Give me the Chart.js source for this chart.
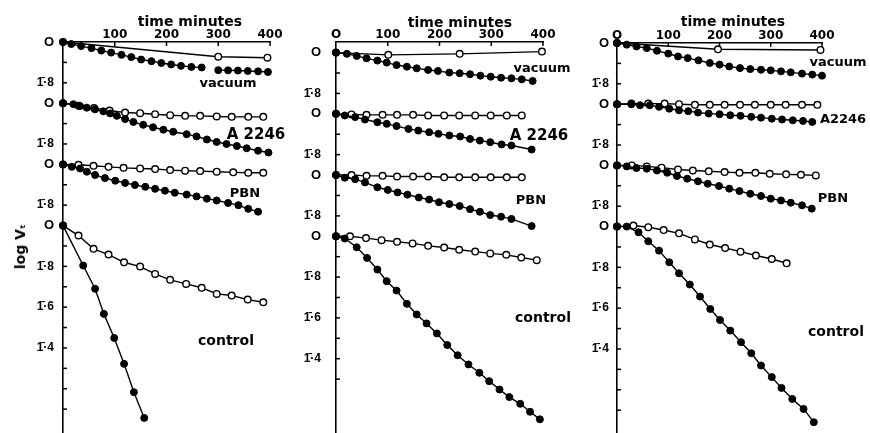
<!DOCTYPE html>
<html><head><meta charset="utf-8">
<script src="https://cdn.jsdelivr.net/npm/chart.js@4.4.1/dist/chart.umd.min.js"></script>
<style>
html,body{margin:0;padding:0;background:#fff;}
#wrap{position:relative;width:870px;height:433px;overflow:hidden;background:#fff;}
.pc{position:absolute;top:0;height:433px;width:290px;}
.lbl{position:absolute;font-family:"DejaVu Sans",sans-serif;font-weight:bold;color:#000;white-space:nowrap;transform:translate(-50%,-50%);line-height:1;}
</style></head>
<body><div id="wrap">
<div class="pc" style="left:0"><canvas id="c1"></canvas></div>
<div class="pc" style="left:290px"><canvas id="c2"></canvas></div>
<div class="pc" style="left:580px"><canvas id="c3"></canvas></div>

<div class="lbl" style="left:190px;top:21px;font-size:14px">time minutes</div>
<div class="lbl" style="left:460px;top:22px;font-size:14px">time minutes</div>
<div class="lbl" style="left:733px;top:21px;font-size:14px">time minutes</div>
<div class="lbl" style="left:20px;top:247px;font-size:14px;transform:translate(-50%,-50%) rotate(-90deg)">log V<span style="font-size:11px">ₜ</span></div>

<div class="lbl" style="left:228px;top:82px;font-size:13px">vacuum</div>
<div class="lbl" style="left:256px;top:134px;font-size:15px">A 2246</div>
<div class="lbl" style="left:245px;top:192px;font-size:13px">PBN</div>
<div class="lbl" style="left:226px;top:340px;font-size:14px">control</div>

<div class="lbl" style="left:542px;top:67px;font-size:13px">vacuum</div>
<div class="lbl" style="left:539px;top:135px;font-size:15px">A 2246</div>
<div class="lbl" style="left:531px;top:199px;font-size:13px">PBN</div>
<div class="lbl" style="left:543px;top:317px;font-size:14px">control</div>

<div class="lbl" style="left:838px;top:61px;font-size:13px">vacuum</div>
<div class="lbl" style="left:843px;top:118px;font-size:13px">A2246</div>
<div class="lbl" style="left:833px;top:197px;font-size:13px">PBN</div>
<div class="lbl" style="left:836px;top:331px;font-size:14px">control</div>
</div>
<script>
// ---- tick labels ----
const xTickValues = [0, 100, 200, 300, 400];
const xTickLabelsP1 = ['', '100', '200', '300', '400'];
const xTickLabelsP23 = ['O', '100', '200', '300', '400'];
const yTickValues = [0,-0.1,-0.2,-0.3,-0.4,-0.5,-0.6,-0.7,-0.8,-0.9,-1.0,-1.1,-1.2,-1.3,-1.4,-1.5,-1.6,-1.7,-1.8];
const yTickLabels = ['O','','1\u0304\u00B78','O','','1\u0304\u00B78','O','','1\u0304\u00B78','O','','1\u0304\u00B78','','1\u0304\u00B76','','1\u0304\u00B74','','',''];
// vertical offset of each curve family (log units): vacuum, A2246, PBN, control
const curveOffsets = [0, -0.3, -0.6, -0.9];

// ---- Panel 1 (time in minutes, log Vt) ----
const p1VacOpenT = [0, 300, 395];
const p1VacOpenV = [0, -0.072, -0.077];
const p1VacFillAT = [0,16,35,55,74,93,113,132,151,171,190,209,228,248,268];
const p1VacFillAV = [0,-0.010,-0.020,-0.030,-0.042,-0.052,-0.063,-0.074,-0.086,-0.094,-0.103,-0.110,-0.117,-0.122,-0.125];
const p1VacFillBT = [300,319,338,357,377,396];
const p1VacFillBV = [-0.138,-0.139,-0.140,-0.142,-0.144,-0.147];
const p1A2246OpenT = [0,30,60,90,120,149,178,207,236,265,297,326,358,387];
const p1A2246OpenV = [0,-0.012,-0.024,-0.036,-0.046,-0.049,-0.054,-0.059,-0.062,-0.062,-0.065,-0.067,-0.067,-0.067];
const p1A2246FillT = [0,20,33,46,62,78,91,104,120,136,155,174,194,213,239,258,278,297,316,336,355,377,397];
const p1A2246FillV = [0,-0.005,-0.014,-0.022,-0.030,-0.040,-0.050,-0.062,-0.078,-0.092,-0.106,-0.118,-0.130,-0.140,-0.152,-0.163,-0.178,-0.190,-0.200,-0.210,-0.221,-0.233,-0.242];
const p1PbnOpenT = [0,30,59,88,117,149,178,207,236,265,297,329,358,387];
const p1PbnOpenV = [0,-0.002,-0.007,-0.012,-0.017,-0.020,-0.023,-0.028,-0.031,-0.033,-0.036,-0.039,-0.041,-0.041];
const p1PbnFillT = [0,17,33,46,62,81,101,120,139,159,178,197,216,239,258,278,297,319,339,358,377];
const p1PbnFillV = [0,-0.012,-0.020,-0.036,-0.052,-0.067,-0.080,-0.091,-0.101,-0.110,-0.120,-0.129,-0.139,-0.148,-0.157,-0.168,-0.177,-0.189,-0.200,-0.218,-0.232];
const p1CtrlOpenT = [0,30,59,88,118,149,178,207,238,268,297,326,357,387];
const p1CtrlOpenV = [0,-0.049,-0.114,-0.142,-0.180,-0.201,-0.237,-0.266,-0.286,-0.305,-0.335,-0.343,-0.363,-0.376];
const p1CtrlFillT = [0,39,62,79,99,118,137,157];
const p1CtrlFillV = [0,-0.196,-0.310,-0.433,-0.551,-0.678,-0.817,-0.943];

// ---- Panel 2 ----
const p2VacOpenT = [0,101,239,398];
const p2VacOpenV = [0,-0.011,-0.006,0.005];
const p2VacFillT = [0,21,40,59,80,98,117,137,156,178,197,219,239,259,279,299,319,339,359,380];
const p2VacFillV = [0,-0.006,-0.016,-0.028,-0.039,-0.049,-0.061,-0.069,-0.077,-0.085,-0.090,-0.098,-0.101,-0.106,-0.113,-0.118,-0.123,-0.126,-0.131,-0.139];
const p2A2246OpenT = [0,30,59,90,118,149,178,209,238,269,299,330,359];
const p2A2246OpenV = [0,-0.003,-0.005,-0.005,-0.005,-0.005,-0.008,-0.008,-0.008,-0.008,-0.008,-0.008,-0.008];
const p2A2246FillT = [0,17,37,56,80,98,117,140,159,180,198,219,240,259,278,298,320,339,378];
const p2A2246FillV = [0,-0.008,-0.016,-0.028,-0.041,-0.049,-0.060,-0.074,-0.082,-0.090,-0.098,-0.106,-0.111,-0.123,-0.131,-0.139,-0.150,-0.155,-0.175];
const p2PbnOpenT = [0,30,59,90,118,149,178,209,238,269,299,330,359];
const p2PbnOpenV = [0,0,-0.004,-0.004,-0.007,-0.007,-0.007,-0.011,-0.011,-0.011,-0.011,-0.011,-0.011];
const p2PbnFillT = [0,17,37,56,80,100,119,138,160,180,199,219,239,259,278,298,319,339,378];
const p2PbnFillV = [0,-0.013,-0.020,-0.036,-0.060,-0.073,-0.085,-0.096,-0.110,-0.120,-0.133,-0.142,-0.152,-0.167,-0.180,-0.196,-0.204,-0.215,-0.250];
const p2CtrlOpenT = [0,27,58,88,118,148,178,209,238,269,298,329,358,388];
const p2CtrlOpenV = [0,0,-0.009,-0.019,-0.027,-0.035,-0.047,-0.055,-0.066,-0.075,-0.084,-0.091,-0.104,-0.117];
const p2CtrlFillT = [0,17,40,60,80,98,117,137,156,175,195,215,235,256,277,296,316,335,356,375,394];
const p2CtrlFillV = [0,-0.011,-0.054,-0.106,-0.163,-0.220,-0.266,-0.331,-0.383,-0.427,-0.476,-0.533,-0.583,-0.628,-0.669,-0.710,-0.751,-0.788,-0.821,-0.860,-0.897];

// ---- Panel 3 ----
const p3VacOpenT = [0,197,397];
const p3VacOpenV = [0,-0.031,-0.034];
const p3VacFillT = [0,19,38,58,78,100,119,138,159,181,200,219,240,260,281,300,320,339,361,381,400];
const p3VacFillV = [0,-0.008,-0.017,-0.025,-0.038,-0.052,-0.066,-0.074,-0.085,-0.098,-0.106,-0.115,-0.123,-0.128,-0.131,-0.134,-0.139,-0.144,-0.150,-0.155,-0.160];
const p3A2246OpenT = [0,28,61,93,121,152,181,210,240,269,300,329,361,391];
const p3A2246OpenV = [0,0.003,0.003,0.003,0,-0.003,-0.003,-0.003,-0.003,-0.003,-0.003,-0.003,-0.003,-0.003];
const p3A2246FillT = [0,28,45,64,82,102,121,139,158,179,200,221,241,262,281,302,322,343,363,381];
const p3A2246FillV = [0,0,-0.005,-0.005,-0.013,-0.022,-0.030,-0.034,-0.041,-0.046,-0.049,-0.054,-0.057,-0.062,-0.066,-0.071,-0.075,-0.079,-0.082,-0.087];
const p3PbnOpenT = [0,29,58,87,119,148,179,210,239,270,298,330,359,388];
const p3PbnOpenV = [0,0,-0.005,-0.011,-0.020,-0.025,-0.029,-0.033,-0.036,-0.036,-0.041,-0.044,-0.046,-0.049];
const p3PbnFillT = [0,19,38,58,78,98,117,137,158,177,199,219,239,260,281,300,320,339,361,380];
const p3PbnFillV = [0,-0.005,-0.013,-0.016,-0.025,-0.036,-0.052,-0.065,-0.078,-0.090,-0.101,-0.114,-0.126,-0.139,-0.150,-0.163,-0.172,-0.183,-0.196,-0.212];
const p3CtrlOpenT = [0,32,61,91,121,152,181,211,241,271,302,331];
const p3CtrlOpenV = [0,0.005,-0.003,-0.017,-0.033,-0.063,-0.088,-0.105,-0.123,-0.142,-0.159,-0.180];
const p3CtrlFillT = [0,19,42,61,82,102,121,142,162,182,201,221,242,262,281,302,321,342,364,384];
const p3CtrlFillV = [0,0,-0.028,-0.072,-0.118,-0.175,-0.229,-0.284,-0.343,-0.404,-0.458,-0.510,-0.567,-0.621,-0.681,-0.738,-0.791,-0.845,-0.894,-0.959];

function pts(T, V, off) { return T.map((t, i) => ({ x: t, y: V[i] + off })); }
function openDs(T, V, off) {
  return { data: pts(T, V, off), borderColor: '#000', borderWidth: 1.4, pointRadius: 3.3,
    pointBackgroundColor: '#fff', pointBorderColor: '#000', pointBorderWidth: 1.4,
    tension: 0, clip: false, order: 2 };
}
function fillDs(T, V, off) {
  return { data: pts(T, V, off), borderColor: '#000', borderWidth: 1.4, pointRadius: 3.5,
    pointBackgroundColor: '#000', pointBorderColor: '#000', pointBorderWidth: 1,
    tension: 0, clip: false, order: 1 };
}

const tickMarks = {
  id: 'tickMarks',
  afterDatasetsDraw(chart) {
    const ctx = chart.ctx, xs = chart.scales.x, ys = chart.scales.y;
    ctx.save(); ctx.strokeStyle = '#000'; ctx.lineWidth = 1.5;
    ys.ticks.forEach(t => { const y = ys.getPixelForValue(t.value);
      ctx.beginPath(); ctx.moveTo(xs.left, y); ctx.lineTo(xs.left + 4, y); ctx.stroke(); });
    xs.ticks.forEach(t => { if (t.value === 0) return; const x = xs.getPixelForValue(t.value);
      ctx.beginPath(); ctx.moveTo(x, ys.top); ctx.lineTo(x, ys.top + 4); ctx.stroke(); });
    ctx.restore();
  }
};

function makePanel(id, datasets, cfg) {
  new Chart(document.getElementById(id), {
    type: 'line',
    data: { datasets },
    plugins: [tickMarks],
    options: {
      responsive: true, maintainAspectRatio: false, animation: false,
      layout: { autoPadding: false, padding: { left: 0, right: cfg.padRight, top: 0, bottom: 0 } },
      plugins: { legend: { display: false }, tooltip: { enabled: false } },
      scales: {
        x: { type: 'linear', position: 'top', min: 0, max: 400,
          afterFit: s => { s.height = cfg.top; s.paddingLeft = 0; s.paddingRight = 0; },
          afterBuildTicks: s => { s.ticks = xTickValues.map(v => ({ value: v })); },
          grid: { display: false, drawTicks: false },
          border: { display: true, color: '#000', width: 1.6 },
          ticks: { autoSkip: false, maxRotation: 0, padding: 0, color: '#000',
            font: { family: 'DejaVu Sans', weight: 'bold', size: 12 },
            callback: (v, i) => cfg.xLabels[i] } },
        y: { type: 'linear', min: cfg.yMin, max: cfg.yMax,
          afterFit: s => { s.width = cfg.axisX; s.paddingTop = 0; s.paddingBottom = 0; },
          afterBuildTicks: s => { s.ticks = yTickValues.slice(0, cfg.nTicks).map(v => ({ value: v })); },
          grid: { display: false, drawTicks: false },
          border: { display: true, color: '#000', width: 1.6 },
          ticks: { autoSkip: false, padding: cfg.yPad, color: '#000',
            font: (c) => ({ family: 'Liberation Sans', weight: 'bold', size: (c.tick && c.tick.label === 'O') ? 13 : 12 }),
            callback: (v, i) => yTickLabels[i] } }
      }
    }
  });
}

makePanel('c1', [
  openDs(p1VacOpenT, p1VacOpenV, curveOffsets[0]), fillDs(p1VacFillAT, p1VacFillAV, curveOffsets[0]), fillDs(p1VacFillBT, p1VacFillBV, curveOffsets[0]),
  openDs(p1A2246OpenT, p1A2246OpenV, curveOffsets[1]), fillDs(p1A2246FillT, p1A2246FillV, curveOffsets[1]),
  openDs(p1PbnOpenT, p1PbnOpenV, curveOffsets[2]), fillDs(p1PbnFillT, p1PbnFillV, curveOffsets[2]),
  openDs(p1CtrlOpenT, p1CtrlOpenV, curveOffsets[3]), fillDs(p1CtrlFillT, p1CtrlFillV, curveOffsets[3])
], { padRight: 20, top: 42, axisX: 63, yMin: -1.917, yMax: 0, nTicks: 19, yPad: 9, xLabels: xTickLabelsP1 });

makePanel('c2', [
  openDs(p2VacOpenT, p2VacOpenV, curveOffsets[0]), fillDs(p2VacFillT, p2VacFillV, curveOffsets[0]),
  openDs(p2A2246OpenT, p2A2246OpenV, curveOffsets[1]), fillDs(p2A2246FillT, p2A2246FillV, curveOffsets[1]),
  openDs(p2PbnOpenT, p2PbnOpenV, curveOffsets[2]), fillDs(p2PbnFillT, p2PbnFillV, curveOffsets[2]),
  openDs(p2CtrlOpenT, p2CtrlOpenV, curveOffsets[3]), fillDs(p2CtrlFillT, p2CtrlFillV, curveOffsets[3])
], { padRight: 37, top: 42, axisX: 46, yMin: -1.864, yMax: 0.052, nTicks: 17, yPad: 15, xLabels: xTickLabelsP23 });

makePanel('c3', [
  openDs(p3VacOpenT, p3VacOpenV, curveOffsets[0]), fillDs(p3VacFillT, p3VacFillV, curveOffsets[0]),
  openDs(p3A2246OpenT, p3A2246OpenV, curveOffsets[1]), fillDs(p3A2246FillT, p3A2246FillV, curveOffsets[1]),
  openDs(p3PbnOpenT, p3PbnOpenV, curveOffsets[2]), fillDs(p3PbnFillT, p3PbnFillV, curveOffsets[2]),
  openDs(p3CtrlOpenT, p3CtrlOpenV, curveOffsets[3]), fillDs(p3CtrlFillT, p3CtrlFillV, curveOffsets[3])
], { padRight: 48, top: 43, axisX: 37, yMin: -1.912, yMax: 0, nTicks: 19, yPad: 8, xLabels: xTickLabelsP23 });
</script>
</body></html>
